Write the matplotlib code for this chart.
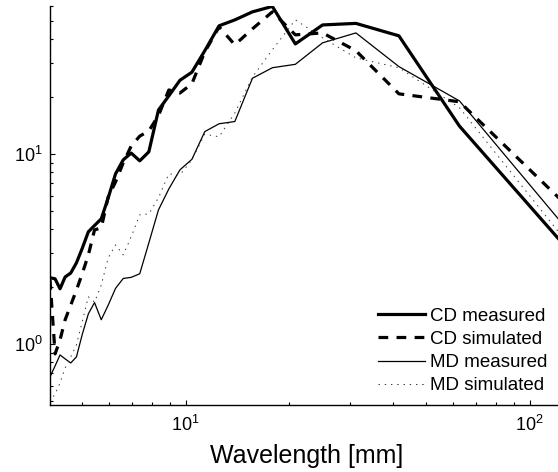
import matplotlib
matplotlib.use("Agg")
import matplotlib.pyplot as plt
from matplotlib.ticker import LogLocator, NullFormatter

plt.rcParams['font.family'] = ['Liberation Sans', 'DejaVu Sans']
plt.rcParams['mathtext.default'] = 'regular'
plt.rcParams['lines.scale_dashes'] = False

wavelength = [4.03, 4.17, 4.31, 4.46, 4.63, 4.81, 5.00, 5.21, 5.43, 5.68,
              5.95, 6.25, 6.58, 6.94, 7.35, 7.81, 8.33, 8.93, 9.62, 10.42,
              11.36, 12.50, 13.89, 15.63, 17.86, 20.83, 25.00, 31.25, 41.67,
              62.50, 125.0]

cd_measured = [2.23, 2.20, 1.95, 2.25, 2.36, 2.67, 3.18, 3.89, 4.20, 4.55,
               5.87, 7.85, 9.30, 10.1, 9.19, 10.25, 17.0, 20.2, 24.4, 26.9,
               34.9, 47.2, 50.7, 55.9, 59.7, 37.9, 47.7, 48.6, 41.8, 14.0, 3.36]

cd_simulated = [2.17, 0.886, 1.05, 1.34, 1.60, 1.92, 2.34, 2.94, 3.98, 4.08,
                5.94, 7.12, 8.97, 11.0, 12.4, 13.2, 15.9, 21.7, 20.9, 23.4,
                34.4, 46.6, 37.5, 45.5, 55.9, 42.3, 43.3, 34.9, 20.7, 18.8, 5.59]

md_measured = [0.671, 0.766, 0.875, 0.834, 0.794, 0.854, 1.12, 1.44, 1.65, 1.34,
               1.60, 1.96, 2.21, 2.24, 2.34, 3.40, 5.07, 6.54, 8.24, 9.36,
               13.1, 14.4, 14.8, 25.0, 28.4, 29.6, 38.4, 43.3, 28.8, 19.0, 4.25]

md_simulated = [0.495, 0.546, 0.623, 0.748, 0.854, 0.988, 1.31, 1.77, 1.66, 2.04,
                2.84, 3.32, 2.94, 3.66, 4.78, 4.83, 5.87, 7.85, 7.75, 9.30,
                12.7, 12.3, 16.4, 25.4, 35.3, 50.7, 40.8, 32.0, 28.4, 17.5, 3.63]

labels = ["CD measured", "CD simulated", "MD measured", "MD simulated"]
xlabel = "Wavelength [mm]"

fig = plt.figure(figsize=(5.58, 4.72), dpi=100)
ax = fig.add_axes([50/558, 67/472, 508/558, 399/472])

ax.plot(wavelength, cd_measured, color='black', lw=2.3, label=labels[0])
ax.plot(wavelength, cd_simulated, color='black', lw=2.3, linestyle=(0, (7, 6)), label=labels[1])
ax.plot(wavelength, md_measured, color='black', lw=0.9, label=labels[2])
ax.plot(wavelength, md_simulated, color='#333333', lw=0.7, linestyle=(0, (1, 3.5)), label=labels[3])

ax.set_xscale('log')
ax.set_yscale('log')
ax.set_xlim(4.03, 120.9)
ax.set_ylim(0.477, 60)

for s in ['top', 'right']:
    ax.spines[s].set_visible(False)
for s in ['left', 'bottom']:
    ax.spines[s].set_linewidth(1.0)

ax.xaxis.set_major_locator(LogLocator(base=10, numticks=10))
ax.yaxis.set_major_locator(LogLocator(base=10, numticks=10))
ax.xaxis.set_minor_locator(LogLocator(base=10, subs=range(2, 10), numticks=20))
ax.yaxis.set_minor_locator(LogLocator(base=10, subs=range(2, 10), numticks=20))
ax.xaxis.set_minor_formatter(NullFormatter())
ax.yaxis.set_minor_formatter(NullFormatter())

ax.tick_params(which='both', direction='in', width=0.8, labelsize=13)
ax.tick_params(which='major', length=3.6)
ax.tick_params(which='minor', length=2.2)
ax.tick_params(axis='x', which='major', pad=7)
ax.tick_params(axis='y', which='major', pad=5.5)

ax.set_xlabel(xlabel, fontsize=18)
ax.xaxis.set_label_coords(0.505, -0.098)

leg = ax.legend(loc='lower right', bbox_to_anchor=(0.98, 0.027), frameon=False,
                fontsize=13.5, handlelength=2.5, handletextpad=0.3,
                labelspacing=0.32, borderpad=0, borderaxespad=0)

fig.savefig("out.png", dpi=100)
